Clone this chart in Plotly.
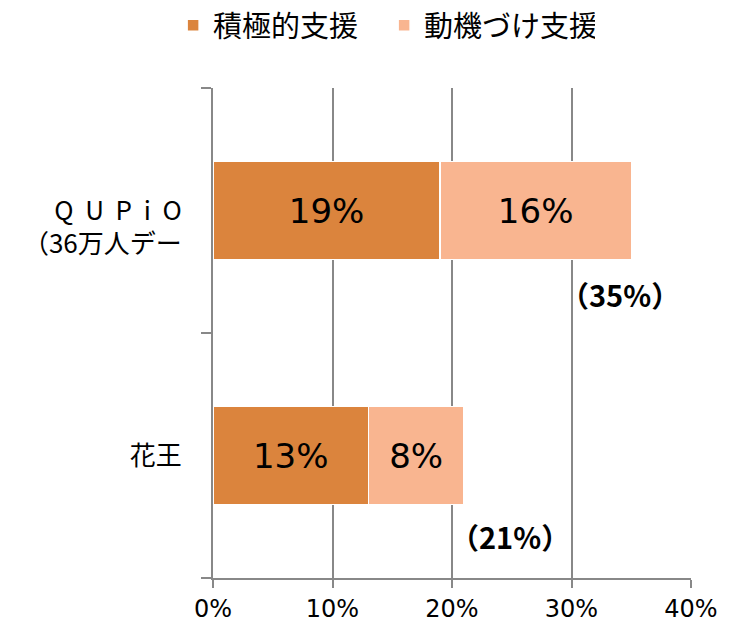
import plotly.graph_objects as go

categories = ["QUPiO", "花王"]
category_labels = ["\u00a0<br>Q\u00a0\u00a0U\u00a0\u00a0P\u00a0\u00a0i\u00a0\u00a0O<br>（36万人デー", "花王"]
series_names = ["積極的支援", "動機づけ支援"]
active_support = [19, 13]
motivational_support = [16, 8]
totals = [35, 21]
x_tickvals = [0, 10, 20, 30, 40]
x_ticktext = ["0%", "10%", "20%", "30%", "40%"]

colors = ["#DB843D", "#F9B590"]
grid = "#888888"
latin = "DejaVu Sans, Noto Sans CJK JP"
cjk = "Noto Sans CJK JP, DejaVu Sans"

fig = go.Figure()
for name, vals, col in zip(series_names, [active_support, motivational_support], colors):
    fig.add_trace(go.Bar(
        name=name, y=categories, x=vals, orientation="h",
        marker=dict(color=col, line=dict(color="white", width=1.5)),
        width=0.4,
        text=[f"{v}%" for v in vals], textposition="inside",
        insidetextanchor="middle", textangle=0,
        textfont=dict(family=latin, size=34, color="black"),
        hoverinfo="skip",
    ))

# total annotations
shifts = [(-11, -83), (46, -80)]
for cat, tot, (dx, dy) in zip(categories, totals, shifts):
    fig.add_annotation(x=tot, y=cat, xref="x", yref="y", text=f"（{tot}%）",
                       showarrow=False, xshift=dx, yshift=dy,
                       font=dict(family=cjk, size=29, color="black", weight="bold"))

fig.update_layout(
    barmode="stack",
    width=729, height=626,
    margin=dict(l=213, r=38, t=88, b=48, autoexpand=False),
    paper_bgcolor="white", plot_bgcolor="white",
    showlegend=True,
    legend=dict(orientation="h", x=0.358, xanchor="center", y=1.0, yref="container",
                yanchor="top", font=dict(family=cjk, size=29, color="black"),
                itemwidth=30, traceorder="normal", entrywidth=166),
    xaxis=dict(range=[0, 40], tickvals=x_tickvals, ticktext=x_ticktext,
               showgrid=True, gridcolor=grid, gridwidth=2,
               showline=True, linecolor=grid, linewidth=2,
               ticks="outside", ticklen=8, tickcolor=grid, tickwidth=2,
               tickfont=dict(family=latin, size=24, color="black"),
               zeroline=False, fixedrange=True),
    yaxis=dict(categoryorder="array", categoryarray=categories,
               tickvals=categories, ticktext=category_labels,
               range=[len(categories) - 0.5, -0.5], autorange=False,
               showline=True, linecolor=grid, linewidth=2,
               ticks="outside", tickson="boundaries", ticklen=10, tickcolor=grid, tickwidth=2,
               ticklabelstandoff=24,
               tickfont=dict(family=cjk, size=26, color="black"),
               showgrid=False, zeroline=False, fixedrange=True),
    font=dict(family=cjk),
)

fig.write_html("out.html")
